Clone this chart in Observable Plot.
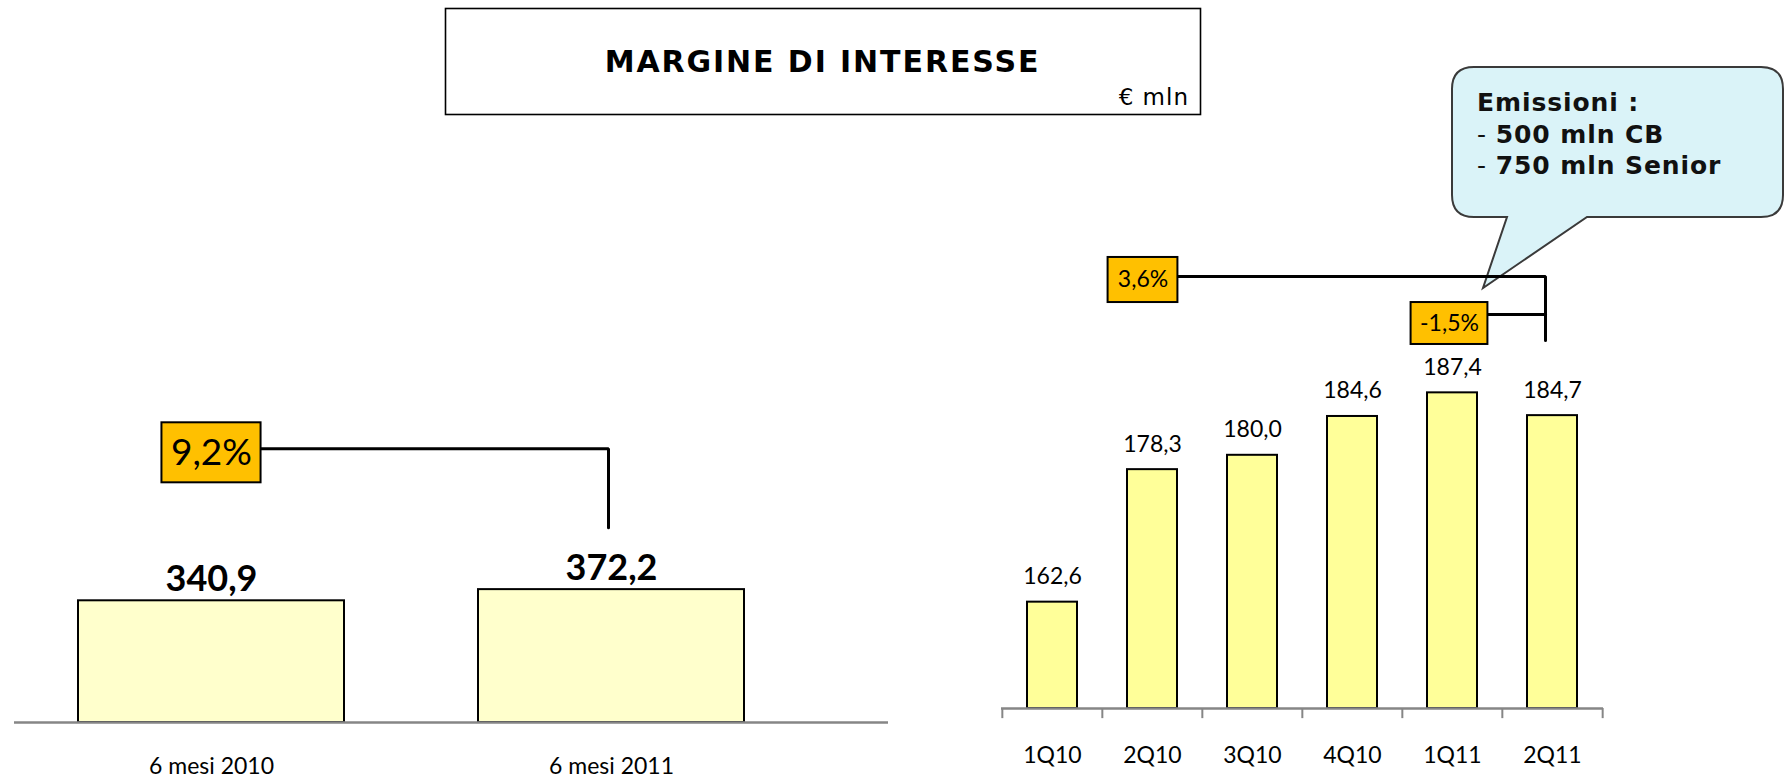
<!DOCTYPE html>
<html><head><meta charset="utf-8">
<script src="https://cdn.jsdelivr.net/npm/d3@7"></script>
<script src="https://cdn.jsdelivr.net/npm/@observablehq/plot@0.6"></script>
<style>
html,body{margin:0;padding:0;background:#fff;}
#chart{position:relative;width:1785px;height:780px;overflow:hidden;background:#fff;}
#chart > svg{position:absolute;left:0;top:0;}
</style></head><body><div id="chart"></div>
<script>
// ---- data ----
const halfYears = ["6 mesi 2010", "6 mesi 2011"];
const halfValues = [340.9, 372.2];
const quarters = ["1Q10", "2Q10", "3Q10", "4Q10", "1Q11", "2Q11"];
const quarterValues = [162.6, 178.3, 180.0, 184.6, 187.4, 184.7];

// growth annotations (label, compared period -> reference period, levels in value units)
const halfGrowthLabels = ["9,2%"];
const halfGrowthFrom = ["6 mesi 2010"];
const halfGrowthTo = ["6 mesi 2011"];
const halfGrowthLevels = [766.7];      // bracket line level
const halfGrowthBottom = [545.4];      // bracket end level
const halfGrowthBox = [[671.4, 839.5]];

const quarterGrowthLabels = ["3,6%", "-1,5%"];
const quarterGrowthFrom = ["2Q10", "1Q11"];
const quarterGrowthTo = ["2Q11", "2Q11"];
const quarterGrowthLevels = [201.18, 196.68];
const quarterGrowthBottom = [193.6];
const quarterGrowthBox = [[198.1, 203.44], [193.13, 198.1]];

const titleText = "MARGINE DI INTERESSE";
const unitText = "€ mln";
const calloutLines = [["", "Emissioni :"], ["-", "500 mln CB"], ["-", "750 mln Senior"]];

// ---- helpers ----
const fmt = v => d3.format(".1f")(v).replace(".", ",");
const W = 1785, H = 780;
const FONT = "Lato, 'Open Sans', sans-serif";
const GRAY = "#868686";
const ORANGE = "#FFC000";

const halfData = halfYears.map((p, i) => ({p, v: halfValues[i]}));
const qData = quarters.map((q, i) => ({q, v: quarterValues[i]}));

const chart = document.getElementById("chart");

// ---- overlay: title box + callout (drawn below the plots) ----
const ov = d3.create("svg").attr("width", W).attr("height", H);
ov.append("rect").attr("x", 445.5).attr("y", 8.5).attr("width", 755).attr("height", 106)
  .attr("fill", "#fff").attr("stroke", "#000").attr("stroke-width", 1.6);
ov.append("text").attr("x", 822.5).attr("y", 72).attr("text-anchor", "middle")
  .attr("font-family", "'DejaVu Sans', sans-serif").attr("font-weight", "bold")
  .attr("font-size", 30).attr("letter-spacing", 1.9).text(titleText);
ov.append("text").attr("x", 1189).attr("y", 105).attr("text-anchor", "end")
  .attr("font-family", "'DejaVu Sans', sans-serif").attr("font-size", 23)
  .attr("letter-spacing", 1).text(unitText);
ov.append("path")
  .attr("d", "M1474,67 H1761 Q1783,67 1783,89 V195 Q1783,217 1761,217 H1587 L1483,288 L1507,217 H1474 Q1452,217 1452,195 V89 Q1452,67 1474,67 Z")
  .attr("fill", "#DAF3F8").attr("stroke", "#3a3a3a").attr("stroke-width", 2);
calloutLines.forEach(([dash, txt], i) => {
  const t = ov.append("text").attr("x", 1477).attr("y", 111 + i * 31.5)
    .attr("font-family", "'DejaVu Sans', sans-serif").attr("font-size", 25)
    .attr("letter-spacing", 0.9).attr("fill", "#111");
  if (dash) t.append("tspan").attr("font-weight", "normal").text(dash + " ");
  t.append("tspan").attr("font-weight", "bold").text(txt);
});
chart.appendChild(ov.node());

// ---- left panel ----
const leftRange = [17, 805], leftPI = 0.3342, leftPO = 0.15;
const stepL = (leftRange[1] - leftRange[0]) / (halfYears.length - leftPI + 2 * leftPO);
const bwL = stepL * (1 - leftPI);
const boxWL = 100;
const hbPoints = [
  {p: halfGrowthFrom[0], v: halfGrowthLevels[0]},
  {p: halfGrowthTo[0], v: halfGrowthLevels[0]},
  {p: halfGrowthTo[0], v: halfGrowthBottom[0]}
];
const left = Plot.plot({
  width: W, height: H,
  marginLeft: 14, marginRight: 897, marginTop: 365, marginBottom: 58,
  style: {background: "transparent"},
  x: {type: "band", domain: halfYears, range: leftRange, paddingInner: leftPI, paddingOuter: leftPO},
  y: {domain: [0, 1000], axis: null},
  marks: [
    Plot.barY(halfData, {x: "p", y: "v", fill: "#FFFFCC", stroke: "#000", strokeWidth: 2}),
    Plot.ruleY([0], {stroke: GRAY, strokeWidth: 2.5}),
    Plot.text(halfData, {x: "p", y: "v", text: d => fmt(d.v), dy: -10, lineAnchor: "bottom",
      fontSize: 36, fontWeight: "bold", fontFamily: FONT, fill: "#000"}),
    Plot.axisX({tickSize: 0, tickPadding: 35, fontSize: 23, fontFamily: FONT, fill: "#000", label: null}),
    Plot.line(hbPoints, {x: "p", y: "v", stroke: "#000", strokeWidth: 3, dx: -3, strokeLinejoin: "miter"}),
    Plot.barY(halfGrowthFrom.map((p, i) => ({p, y1: halfGrowthBox[i][0], y2: halfGrowthBox[i][1]})),
      {x: "p", y1: "y1", y2: "y2", fill: ORANGE, stroke: "#000", strokeWidth: 2,
       insetLeft: (bwL - boxWL) / 2, insetRight: (bwL - boxWL) / 2}),
    Plot.text(halfGrowthFrom.map((p, i) => ({p, t: halfGrowthLabels[i], y: (halfGrowthBox[i][0] + halfGrowthBox[i][1]) / 2})),
      {x: "p", y: "y", text: "t", fontSize: 37, fontFamily: FONT, fill: "#000", lineAnchor: "middle"})
  ]
});
chart.appendChild(left);

// ---- right panel ----
const rPI = 0.5, rPO = 0.25, rLeft = 1001, rRight = 182;
const stepR = (W - rRight - rLeft) / (quarters.length - rPI + 2 * rPO);
const bwR = stepR * (1 - rPI);
const yMinR = 150;
const tickLen = 1.2; // value units below the baseline
const boxWR = [70, 77];
const boxDx = [-9.5, -3];
const bracketDx = -7;
const qb1 = [
  {q: quarterGrowthFrom[0], v: quarterGrowthLevels[0]},
  {q: quarterGrowthTo[0], v: quarterGrowthLevels[0]},
  {q: quarterGrowthTo[0], v: quarterGrowthBottom[0]}
];
const qb2 = [
  {q: quarterGrowthFrom[1], v: quarterGrowthLevels[1]},
  {q: quarterGrowthTo[1], v: quarterGrowthLevels[1]}
];
const boxMarks = quarterGrowthFrom.flatMap((q, i) => {
  const d = [{q, y1: quarterGrowthBox[i][0], y2: quarterGrowthBox[i][1], t: quarterGrowthLabels[i]}];
  return [
    Plot.barY(d, {x: "q", y1: "y1", y2: "y2", fill: ORANGE, stroke: "#000", strokeWidth: 2,
      insetLeft: (bwR - boxWR[i]) / 2, insetRight: (bwR - boxWR[i]) / 2, dx: boxDx[i]}),
    Plot.text(d, {x: "q", y: e => (e.y1 + e.y2) / 2, text: "t", fontSize: 23, fontFamily: FONT,
      fill: "#000", lineAnchor: "middle", dx: boxDx[i]})
  ];
});
const right = Plot.plot({
  width: W, height: H,
  marginLeft: rLeft, marginRight: rRight, marginTop: 286, marginBottom: 72,
  style: {background: "transparent"},
  x: {type: "band", domain: quarters, paddingInner: rPI, paddingOuter: rPO},
  y: {domain: [yMinR, 200], axis: null},
  marks: [
    Plot.barY(qData, {x: "q", y1: yMinR, y2: "v", fill: "#FFFF99", stroke: "#000", strokeWidth: 2}),
    Plot.ruleY([yMinR], {stroke: GRAY, strokeWidth: 2.5}),
    Plot.ruleX(quarters, {x: d => d, y1: yMinR, y2: yMinR - tickLen, dx: -stepR / 2, stroke: GRAY, strokeWidth: 2}),
    Plot.ruleX(quarters.slice(-1), {x: d => d, y1: yMinR, y2: yMinR - tickLen, dx: stepR / 2, stroke: GRAY, strokeWidth: 2}),
    Plot.text(qData, {x: "q", y: "v", text: d => fmt(d.v), dy: -18, lineAnchor: "bottom",
      fontSize: 23, fontFamily: FONT, fill: "#000"}),
    Plot.axisX({tickSize: 0, tickPadding: 38, fontSize: 23, fontFamily: FONT, fill: "#000", label: null}),
    Plot.line(qb1, {x: "q", y: "v", stroke: "#000", strokeWidth: 3, dx: bracketDx, strokeLinejoin: "miter"}),
    Plot.line(qb2, {x: "q", y: "v", stroke: "#000", strokeWidth: 3, dx: bracketDx}),
    ...boxMarks
  ]
});
chart.appendChild(right);
</script></body></html>
